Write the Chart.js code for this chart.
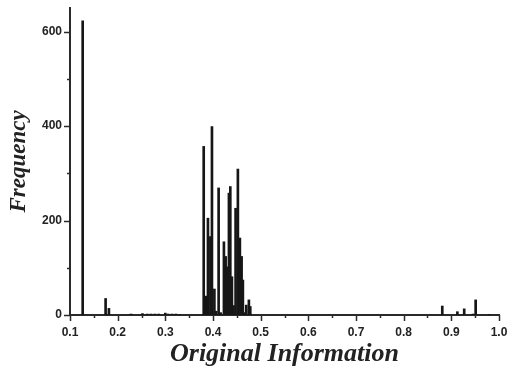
<!DOCTYPE html>
<html>
<head>
<meta charset="utf-8">
<script src="https://cdn.jsdelivr.net/npm/chart.js@4/dist/chart.umd.min.js"></script>
<style>
html, body { margin: 0; padding: 0; background: #fff; }
#wrap { width: 508px; height: 371px; }
</style>
</head>
<body>
<div id="wrap"><canvas id="histo"></canvas></div>
<script>
// histogram bins: bin position and count
var INFO = [0.1266, 0.1747, 0.1816,
  0.228, 0.252, 0.262, 0.270, 0.278, 0.286, 0.300, 0.306, 0.314, 0.322, 0.330,
  0.3805, 0.3846, 0.3878, 0.3894, 0.3945, 0.3978, 0.4029, 0.4066, 0.4118, 0.416,
  0.4229, 0.4265, 0.4296, 0.4334, 0.4363, 0.4397, 0.4432, 0.4474, 0.4522, 0.4564,
  0.46, 0.4627, 0.4663, 0.4698, 0.4753, 0.4782,
  0.881, 0.9127, 0.927, 0.9455, 0.951, 0.98];
var FREQ = [623, 35, 14,
  2, 3, 2, 2, 2, 2, 4, 2, 2, 2, 1,
  357, 40, 35, 205, 166, 399, 55, 8, 269, 5,
  155, 124, 102, 258, 272, 81, 20, 226, 309, 163,
  124, 74, 5, 21, 32, 18,
  19, 7, 13, 2, 32, 1];

var X_TICK_LABELS = ['0.1', '0.2', '0.3', '0.4', '0.5', '0.6', '0.7', '0.8', '0.9', '1.0'];
var Y_TICK_LABELS = ['0', '200', '400', '600'];

var AXIS_COLOR = '#2a2a2a';
var BAR_COLOR = '#161616';

function near(v, step) {
  var r = v / step;
  return Math.abs(r - Math.round(r)) < 1e-6;
}

var points = INFO.map(function(x, i) { return {x: x, y: FREQ[i]}; });

// draws the outward ticks, longer on labelled values
var axisTicks = {
  id: 'axisTicks',
  afterDraw: function(chart) {
    var ctx = chart.ctx, xs = chart.scales.x, ys = chart.scales.y;
    ctx.save();
    ctx.strokeStyle = AXIS_COLOR;
    ctx.lineWidth = 1.5;
    xs.ticks.forEach(function(t) {
      if (!near(t.value, 0.05)) return;
      var px = Math.round(xs.getPixelForValue(t.value)) + 0.5;
      var len = near(t.value, 0.1) ? 6 : 3;
      ctx.beginPath();
      ctx.moveTo(px, ys.bottom);
      ctx.lineTo(px, ys.bottom + len);
      ctx.stroke();
    });
    ys.ticks.forEach(function(t) {
      if (!near(t.value, 100)) return;
      var py = Math.round(ys.getPixelForValue(t.value)) + 0.5;
      var len = near(t.value, 200) ? 6 : 3;
      ctx.beginPath();
      ctx.moveTo(xs.left, py);
      ctx.lineTo(xs.left - len, py);
      ctx.stroke();
    });
    ctx.restore();
  }
};

var tickFont = {family: 'Liberation Sans', weight: 'bold', size: 12};

var config = {
  type: 'bar',
  data: {
    datasets: [{
      label: 'Frequency',
      data: points,
      backgroundColor: BAR_COLOR,
      borderWidth: 0,
      barThickness: 2
    }]
  },
  options: {
    responsive: true,
    maintainAspectRatio: false,
    animation: false,
    layout: {padding: {top: 8, right: 9, left: 0, bottom: 0}},
    plugins: {legend: {display: false}, tooltip: {enabled: false}},
    scales: {
      x: {
        type: 'linear',
        min: 0.1,
        max: 1.0,
        offset: false,
        grid: {display: false, drawTicks: false, offset: false},
        border: {display: true, color: AXIS_COLOR, width: 2},
        ticks: {
          stepSize: 0.05,
          includeBounds: false,
          autoSkip: false,
          maxRotation: 0,
          padding: 10,
          color: '#222',
          font: tickFont,
          callback: function(v) {
            if (!near(v, 0.1)) return '';
            return X_TICK_LABELS[Math.round(v * 10) - 1];
          }
        },
        title: {
          display: true,
          text: 'Original Information',
          color: '#222',
          font: {family: 'Liberation Serif', weight: 'bold', style: 'italic', size: 26},
          padding: {top: 0, bottom: 1}
        },
        afterFit: function(s) {
          s.height = 56;
          s.paddingLeft = 0;
          s.paddingRight = 0;
        }
      },
      y: {
        min: 0,
        max: 650,
        grid: {display: false, drawTicks: false},
        border: {display: true, color: AXIS_COLOR, width: 2},
        ticks: {
          stepSize: 100,
          includeBounds: false,
          padding: 8,
          color: '#222',
          font: tickFont,
          callback: function(v) {
            if (!near(v, 200)) return '';
            return Y_TICK_LABELS[Math.round(v / 200)];
          }
        },
        title: {
          display: true,
          text: 'Frequency',
          color: '#222',
          font: {family: 'Liberation Serif', weight: 'bold', style: 'italic', size: 23},
          padding: {top: 5, bottom: 0}
        },
        afterFit: function(s) {
          s.width = 70;
          s.paddingTop = 0;
          s.paddingBottom = 0;
        }
      }
    }
  },
  plugins: [axisTicks]
};

window.onload = function() {
  var ctx = document.getElementById('histo').getContext('2d');
  window.histo = new Chart(ctx, config);
};
</script>
</body>
</html>
